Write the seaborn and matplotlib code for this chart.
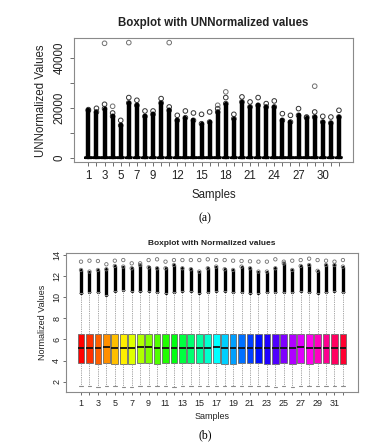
import matplotlib
matplotlib.use("Agg")
import matplotlib.pyplot as plt
import pandas as pd
import seaborn as sns

sns.set_theme(style="white")
plt.rcParams['font.family'] = ['Liberation Sans', 'DejaVu Sans']

samples = list(range(1, 33))

# --- (a) raw counts: box squashed at 0, tall stacks of outliers above ---
unnorm_q1 = [0] * 32
unnorm_med = [0] * 32
unnorm_q3 = [300] * 32
unnorm_solid = [19000, 18390, 19730, 16640, 13020, 22010, 21070, 16640, 17450, 22010, 19060,
                15030, 16100, 15030, 13690, 14360, 18390, 21740, 15700, 22410, 20400, 21070,
                20400, 20400, 15030, 14360, 17040, 16100, 16370, 14360, 13960, 16370]
unnorm_top = [19330, 19860, 21470, 17980, 15030, 24160, 23080, 18790, 18790, 23750, 20400,
              17040, 18790, 17980, 17450, 18390, 19730, 24160, 17450, 24420, 22410, 24160,
              21740, 22810, 17710, 17040, 19730, 16370, 18390, 16640, 16370, 19060]
far_sample = [3, 4, 6, 11, 17, 18, 29]
far_value = [45900, 20670, 46170, 46170, 21070, 26440, 28720]
a_labels = [1, 3, 5, 7, 9, 12, 15, 18, 21, 24, 27, 30]

# --- (b) normalized values ---
norm_lo = [1.55, 1.55, 1.52, 1.58, 1.55, 1.48, 1.47, 1.58, 1.58, 1.6, 1.55, 1.52, 1.58, 1.58,
           1.55, 1.6, 1.58, 1.58, 1.58, 1.6, 1.55, 1.55, 1.55, 1.52, 1.58, 1.45, 1.55, 1.55,
           1.58, 1.58, 1.55, 1.58]
norm_q1 = [3.75, 3.75, 3.72, 3.75, 3.65, 3.65, 3.67, 3.75, 3.75, 3.65, 3.75, 3.75, 3.75, 3.75,
           3.75, 3.75, 3.75, 3.72, 3.72, 3.75, 3.75, 3.75, 3.72, 3.72, 3.75, 3.65, 3.75, 3.72,
           3.75, 3.75, 3.65, 3.72]
norm_med = [5.22, 5.22, 5.22, 5.28, 5.18, 5.2, 5.22, 5.26, 5.26, 5.2, 5.22, 5.22, 5.22, 5.22,
            5.22, 5.2, 5.26, 5.2, 5.2, 5.22, 5.22, 5.22, 5.2, 5.2, 5.22, 5.2, 5.26, 5.22, 5.2,
            5.22, 5.15, 5.22]
norm_q3 = [6.52, 6.52, 6.52, 6.5, 6.52, 6.55, 6.55, 6.52, 6.52, 6.52, 6.52, 6.52, 6.55, 6.52,
           6.52, 6.52, 6.52, 6.52, 6.52, 6.52, 6.52, 6.52, 6.52, 6.52, 6.52, 6.52, 6.55, 6.52,
           6.52, 6.52, 6.52, 6.52]
norm_hi = [10.4, 10.45, 10.45, 10.25, 10.62, 10.68, 10.58, 10.55, 10.55, 10.48, 10.4, 10.45,
           10.55, 10.55, 10.4, 10.45, 10.55, 10.55, 10.45, 10.45, 10.4, 10.4, 10.45, 10.5, 10.5,
           10.5, 10.55, 10.45, 10.4, 10.5, 10.55, 10.5]
norm_solid = [12.58, 12.43, 12.58, 12.65, 12.96, 12.9, 12.74, 13.05, 12.83, 12.74, 12.74, 13.05,
              12.74, 12.65, 12.43, 12.74, 12.9, 12.65, 12.58, 12.9, 12.74, 12.43, 12.43, 12.74,
              13.2, 12.58, 12.96, 13.05, 12.5, 13.05, 13.05, 12.9]
norm_top = [13.37, 13.46, 13.43, 13.12, 13.46, 13.52, 13.21, 13.21, 13.52, 13.59, 13.37, 13.52,
            13.52, 13.52, 13.52, 13.59, 13.52, 13.52, 13.46, 13.43, 13.4, 13.37, 13.37, 13.59,
            13.37, 13.46, 13.52, 13.65, 13.52, 13.46, 13.37, 13.52]
b_labels = list(range(1, 33, 2))

frame_col = '#8a8a8a'
text_col = '#222222'
circle_col = '#707070'

fig = plt.figure(figsize=(3.87, 4.43), dpi=100)


def style_axes(ax, labels, fs, ticklen):
    for s in ax.spines.values():
        s.set_color(frame_col)
        s.set_linewidth(0.8)
    ax.set_xticks(samples)
    ax.set_xticklabels([str(s) if s in labels else '' for s in samples])
    ax.tick_params(axis='both', bottom=True, left=True, length=ticklen, width=0.6,
                   color='#555555', labelsize=fs, labelcolor=text_col, direction='out')
    for t in ax.get_yticklabels():
        t.set_rotation(90)
        t.set_va('center')


# ---------- (a) ----------
ax1 = fig.add_axes([0.1912, 0.6332, 0.7218, 0.281])
stats_a = [dict(q1=unnorm_q1[i], med=unnorm_med[i], q3=unnorm_q3[i], whislo=0,
                whishi=unnorm_q3[i], fliers=[]) for i in range(32)]
ax1.bxp(stats_a, positions=samples, widths=0.8, showfliers=False,
        boxprops=dict(color='black', linewidth=1.2),
        medianprops=dict(color='black', linewidth=1.6),
        whiskerprops=dict(color='black', linewidth=0.8),
        capprops=dict(color='black', linewidth=0.8))
ax1.vlines(samples, unnorm_q3, unnorm_solid, color='black', linewidth=3.2, capstyle='round')
stack_a = pd.DataFrame({'sample': samples * 2, 'value': unnorm_solid + unnorm_top})
sns.scatterplot(data=stack_a, x='sample', y='value', ax=ax1, marker='o', s=11,
                facecolors='none', edgecolors='#333333', linewidth=0.7, legend=False)
far_a = pd.DataFrame({'sample': far_sample, 'value': far_value})
sns.scatterplot(data=far_a, x='sample', y='value', ax=ax1, marker='o', s=11,
                facecolors='none', edgecolors=circle_col, linewidth=0.7, legend=False)
ax1.set_xlim(-0.78, 33.78)
ax1.set_ylim(-1847, 48017)
ax1.set_yticks([0, 10000, 20000, 30000, 40000])
ax1.set_yticklabels(['0', '', '20000', '', '40000'])
style_axes(ax1, a_labels, 8.3, 3.1)
ax1.tick_params(axis='x', pad=2.0)
ax1.tick_params(axis='y', pad=3.0)
ax1.set_title('Boxplot with UNNormalized values', fontsize=8.3, fontweight='bold',
              color=text_col, pad=9)
ax1.set_xlabel('Samples', fontsize=8.3, color=text_col, labelpad=5)
ax1.set_ylabel('UNNormalized Values', fontsize=8.3, color=text_col, labelpad=5)

# ---------- (b) ----------
ax2 = fig.add_axes([0.1705, 0.1158, 0.7545, 0.3124])
colors = sns.hls_palette(32, h=0, l=0.5, s=1.0)
stats_b = [dict(q1=norm_q1[i], med=norm_med[i], q3=norm_q3[i], whislo=norm_lo[i],
                whishi=norm_hi[i], fliers=[]) for i in range(32)]
ax2.vlines(samples, norm_hi, norm_solid, color='black', linewidth=2.4, capstyle='round',
           zorder=1)
bp = ax2.bxp(stats_b, positions=samples, widths=0.8, showfliers=False, patch_artist=True,
             capwidths=0.4,
             boxprops=dict(edgecolor='#6a6a6a', linewidth=0.6),
             medianprops=dict(color='#111111', linewidth=1.3),
             whiskerprops=dict(color='#9a9a9a', linewidth=0.6, linestyle=(0, (1.5, 1.2))),
             capprops=dict(color='#8a8a8a', linewidth=0.8))
for patch, c in zip(bp['boxes'], colors):
    patch.set_facecolor(c)
stack_b = pd.DataFrame({'sample': samples * 2, 'value': norm_solid + norm_top})
sns.scatterplot(data=stack_b, x='sample', y='value', ax=ax2, marker='o', s=6,
                facecolors='none', edgecolors=circle_col, linewidth=0.6, legend=False)
ax2.set_xlim(-0.78, 33.78)
ax2.set_ylim(1.05, 14.16)
ax2.set_yticks([2, 4, 6, 8, 10, 12, 14])
style_axes(ax2, b_labels, 6.5, 2.4)
ax2.tick_params(axis='x', pad=2.5)
ax2.tick_params(axis='y', pad=1.0)
ax2.set_title('Boxplot with Normalized values', fontsize=6, fontweight='bold',
              color=text_col, pad=6)
ax2.set_xlabel('Samples', fontsize=6.5, color=text_col, labelpad=3.5)
ax2.set_ylabel('Normalized Values', fontsize=6.5, color=text_col, labelpad=3.5)

fig.text(205 / 387, 1 - 218 / 443, '(a)', family='Liberation Serif', fontsize=8.5,
         ha='center', va='center', color='black')
fig.text(205 / 387, 1 - 435 / 443, '(b)', family='Liberation Serif', fontsize=8.5,
         ha='center', va='center', color='black')

fig.savefig('out.png', dpi=100, facecolor='white')
